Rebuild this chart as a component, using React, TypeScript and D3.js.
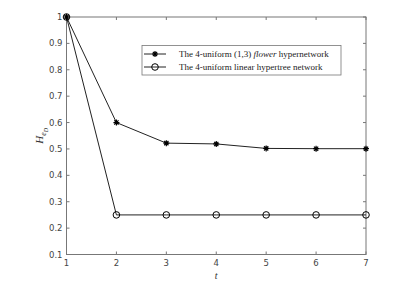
import React from "react";
import * as d3 from "d3";

const tValues = [1, 2, 3, 4, 5, 6, 7];
const flowerValues = [1, 0.6, 0.522, 0.519, 0.502, 0.501, 0.501];
const treeValues = [1, 0.25, 0.25, 0.25, 0.25, 0.25, 0.25];
const yTicks = [0.1, 0.2, 0.3, 0.4, 0.5, 0.6, 0.7, 0.8, 0.9, 1];
const legendLabels = ["The 4-uniform (1,3) ", "flower", " hypernetwork", "The 4-uniform linear hypertree network"];

const W = 401, H = 304;
const L = 66.5, R = 366, T = 17, B = 254.5;

export default function App() {
  const x = d3.scaleLinear().domain([1, 7]).range([L, R]);
  const y = d3.scaleLinear().domain([0.1, 1]).range([B, T]);
  const line = d3.line<number>().x((_, i) => x(tValues[i])).y((d) => y(d));
  const axisColor = "#777";
  const tickLen = 3;

  const star = (cx: number, cy: number, k: string) => {
    const r = 3;
    const paths = [0, 45, 90, 135].map((a) => {
      const rad = (a * Math.PI) / 180;
      const dx = Math.cos(rad) * r, dy = Math.sin(rad) * r;
      return `M${cx - dx},${cy - dy}L${cx + dx},${cy + dy}`;
    });
    return <path key={k} d={paths.join("")} stroke="#000" strokeWidth={1.2} fill="none" />;
  };

  return (
    <svg width={W} height={H} style={{ position: "absolute", left: 0, top: 0, background: "#fff" }}>
      <rect x={0} y={0} width={W} height={H} fill="#fff" />
      {/* axes box */}
      <rect x={L} y={T} width={R - L} height={B - T} fill="none" stroke={axisColor} strokeWidth={1} />
      {tValues.map((t) => (
        <g key={"xt" + t}>
          <line x1={x(t)} x2={x(t)} y1={B} y2={B - tickLen} stroke={axisColor} />
          <line x1={x(t)} x2={x(t)} y1={T} y2={T + tickLen} stroke={axisColor} />
          <text x={x(t)} y={B + 11} fontSize={8.5} fill="#444" textAnchor="middle" fontFamily="DejaVu Sans, sans-serif">{t}</text>
        </g>
      ))}
      {yTicks.map((v) => (
        <g key={"yt" + v}>
          <line x1={L} x2={L + tickLen} y1={y(v)} y2={y(v)} stroke={axisColor} />
          <line x1={R} x2={R - tickLen} y1={y(v)} y2={y(v)} stroke={axisColor} />
          <text x={L - 4} y={y(v) + 3} fontSize={8.5} fill="#444" textAnchor="end" fontFamily="DejaVu Sans, sans-serif">{d3.format("~g")(v)}</text>
        </g>
      ))}
      {/* axis labels */}
      <text x={(L + R) / 2} y={B + 24} fontSize={10} fontStyle="italic" fill="#333" textAnchor="middle" fontFamily="Liberation Serif, serif">t</text>
      <g transform={`translate(43, ${(T + B) / 2}) rotate(-90)`}>
        <text x={0} y={0} fontSize={11} fontStyle="italic" fill="#333" textAnchor="middle" fontFamily="Liberation Serif, serif">
          H<tspan fontSize={8} dy={3}>e</tspan><tspan fontSize={6} dy={2}>D</tspan>
        </text>
      </g>
      {/* series */}
      <path d={line(treeValues) || ""} fill="none" stroke="#222" strokeWidth={1} />
      <path d={line(flowerValues) || ""} fill="none" stroke="#222" strokeWidth={1} />
      {treeValues.map((v, i) => (
        <circle key={"c" + i} cx={x(tValues[i])} cy={y(v)} r={3.3} fill="none" stroke="#000" strokeWidth={1} />
      ))}
      {flowerValues.map((v, i) => star(x(tValues[i]), y(v), "s" + i))}
      {/* legend */}
      <rect x={142} y={45.5} width={199} height={29.5} fill="#fff" stroke={axisColor} strokeWidth={0.8} />
      <line x1={144} x2={166} y1={54} y2={54} stroke="#222" />
      {star(155, 54, "ls")}
      <line x1={144} x2={166} y1={67} y2={67} stroke="#222" />
      <circle cx={155} cy={67} r={3.3} fill="none" stroke="#000" />
      <text x={179} y={57} fontSize={9} fill="#222" fontFamily="Liberation Serif, serif">
        {legendLabels[0]}<tspan fontStyle="italic">{legendLabels[1]}</tspan>{legendLabels[2]}
      </text>
      <text x={179} y={70} fontSize={9} fill="#222" fontFamily="Liberation Serif, serif">{legendLabels[3]}</text>
    </svg>
  );
}
